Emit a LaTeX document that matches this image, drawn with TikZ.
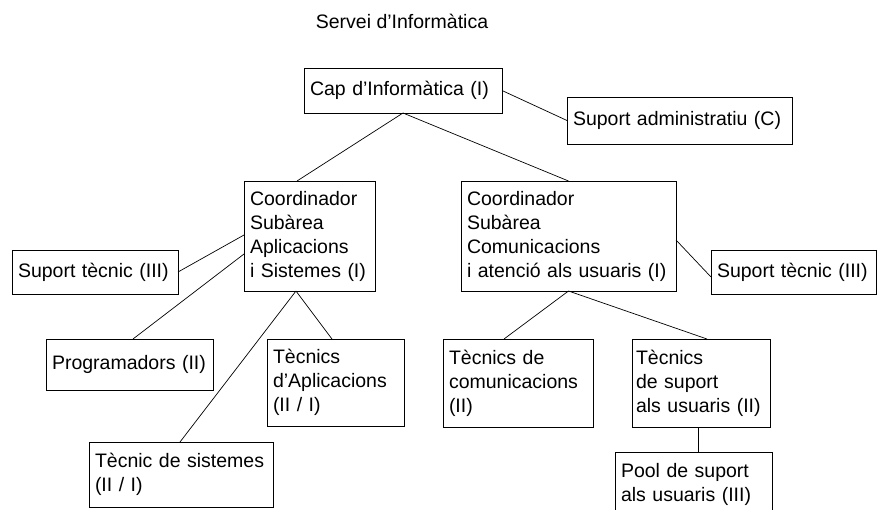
\documentclass[tikz,border=0pt]{standalone}
\usepackage{fontspec}
\setmainfont{Liberation Sans}
\newcommand{\unitfont}{\fontsize{19.5}{24}\selectfont}

\begin{document}
\begin{tikzpicture}[x=1pt,y=-1pt,line width=.7pt,outer sep=0pt,inner ysep=0pt,inner xsep=6pt,
    unit/.style={draw, anchor=north west, align=left, font=\unitfont}]
    \useasboundingbox (0,0) rectangle (881,509);
    \node[font=\unitfont] (title) at (402,21) {Servei d’Informàtica};
    \node[unit, text width=186pt, minimum height=45pt] (cap) at (304,68) {Cap d’Informàtica (I)};
    \node[unit, text width=213pt, minimum height=47pt] (admin) at (567,97) {Suport administratiu (C)};
    \node[unit, text width=119pt, minimum height=110pt] (coordA) at (244,181) {Coordinador\\Subàrea\\Aplicacions\\i Sistemes (I)};
    \node[unit, text width=203pt, minimum height=110pt] (coordB) at (461,181) {Coordinador\\Subàrea\\Comunicacions\\i atenció als usuaris (I)};
    \node[unit, text width=154pt, minimum height=44pt] (supL) at (12,250) {Suport tècnic (III)};
    \node[unit, text width=153pt, minimum height=44pt] (supR) at (711,250) {Suport tècnic (III)};
    \node[unit, text width=155pt, minimum height=51pt] (prog) at (46,339) {Programadors (II)};
    \node[unit, text width=125pt, minimum height=87pt] (tecA) at (267,339) {Tècnics\\d’Aplicacions\\(II / I)};
    \node[unit, text width=138pt, minimum height=88pt] (com) at (443,339) {Tècnics de\\comunicacions\\(II)};
    \node[unit, inner xsep=4pt, text width=130pt, minimum height=88pt] (sus) at (632,339) {Tècnics\\de suport\\als usuaris (II)};
    \node[unit, text width=172pt, minimum height=65pt] (sist) at (89,442) {Tècnic de sistemes\\(II / I)};
    \node[unit, text width=145pt, minimum height=65pt] (pool) at (615,452) {Pool de suport\\als usuaris (III)};
    \path%
      (cap.south) edge ([xshift=53pt]coordA.north west)
      (cap.south) edge (coordB.north)
      (cap.east) edge (admin.west)
      ([yshift=-54pt]coordA.north west) edge (supL.east)
      ([yshift=-73pt]coordA.north west) edge ([xshift=87pt]prog.north west)
      ([xshift=52pt]coordA.south west) edge ([xshift=91pt]sist.north west)
      ([xshift=52pt]coordA.south west) edge ([xshift=65pt]tecA.north west)
      ([yshift=-59pt]coordB.north east) edge ([yshift=-5pt]supR.west)
      (coordB.south) edge ([xshift=61pt]com.north west)
      (coordB.south) edge ([xshift=75pt]sus.north west)
      ([xshift=66pt]sus.south west) edge ([xshift=66pt]sus.south west |- pool.north);
\end{tikzpicture}
\end{document}
